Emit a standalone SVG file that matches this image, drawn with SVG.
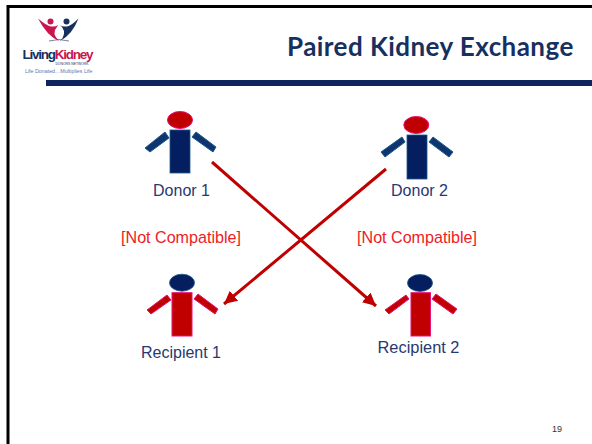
<svg xmlns="http://www.w3.org/2000/svg" width="592" height="444" viewBox="0 0 592 444">
<style>
.sans{font-family:"Liberation Sans",Arial,sans-serif}
.lbl{font-size:16px;fill:#27396f;text-anchor:middle}
.nc{font-size:16.100px;fill:#ee1c25;text-anchor:middle}
.navy{fill:#041e60;stroke:#1a5a8a;stroke-width:.8}
.arm{fill:#0f3570;stroke:#1a5a8a;stroke-width:1}
.red{fill:#c00000;stroke:#e8107a;stroke-width:1}
.conn{stroke:#c00000;stroke-width:3;fill:none}
</style>
<defs>
<marker id="ah" markerUnits="userSpaceOnUse" markerWidth="15" markerHeight="15" refX="13" refY="7" orient="auto"><path d="M0 0.500L13 7L0 13.500Z" fill="#c00000"/></marker>
</defs>
<rect width="592" height="444" fill="#fff"/>
<path d="M8 444V6.500H592" fill="none" stroke="#000" stroke-width="3"/>
<g id="logo">
<path d="M38 18.500Q47 26 51 26.500Q56 27 58 25L57 27Q51 33 59 41Q47 36 38 18.500Z" fill="#c8174f"/>
<path d="M78.500 18.500Q71 26 67 26.500Q62 27 60 25L62 27Q67 34 60 41Q72 35 78.500 18.500Z" fill="#16305f"/>
<circle cx="50.500" cy="21.500" r="3" fill="#c8174f"/><circle cx="66.500" cy="21.500" r="3" fill="#16305f"/>
<path d="M49 41Q59 38 69 41" fill="none" stroke="#16305f" stroke-width=".6"/>
<text class="sans" x="22.500" y="58.500" font-size="13.500" font-weight="700" letter-spacing="-1.250" fill="#16305f">Living<tspan fill="#c8174f">Kidney</tspan></text>
<text class="sans" x="72" y="65" font-size="3.400" fill="#16305f" text-anchor="middle">DONORS NETWORK</text>
<text class="sans" x="25" y="73" font-size="5.300" fill="#5a78a8">Life Donated…Multiplies Life</text>
</g>
<rect x="46" y="80" width="546" height="6" fill="#0f2560"/>
<text x="287" y="55.500" font-size="26" font-weight="700" letter-spacing=".45" fill="#16305f" style="font-family:Lato,'Liberation Sans',sans-serif">Paired Kidney Exchange</text>
<g id="connectors">
<path class="conn" d="M212 162L376 306" marker-end="url(#ah)"/>
<path class="conn" d="M386 169L224 304" marker-end="url(#ah)"/>
</g>
<g id="donor1">
<ellipse class="red" cx="180" cy="120" rx="12.500" ry="8.500"/>
<rect class="navy" x="170" y="130" width="20" height="43"/>
<path class="arm" d="M145 148L165 132L169 138L150 152Z"/>
<path class="arm" d="M192 137L196 132L216 147L213 152Z"/>
<text class="sans lbl" x="181.500" y="196">Donor 1</text>
</g>
<g id="donor2">
<ellipse class="red" cx="416.300" cy="125" rx="12.500" ry="8.500"/>
<rect class="navy" x="407" y="135" width="20" height="44"/>
<path class="arm" d="M381 152L402 137L405 142L385 157Z"/>
<path class="arm" d="M429 142L433 137L453 152L449 157Z"/>
<text class="sans lbl" x="419.500" y="196">Donor 2</text>
</g>
<g id="recipient1">
<ellipse class="navy" cx="182" cy="282.700" rx="12.500" ry="8.500"/>
<rect class="red" x="172" y="292.700" width="20" height="43.300"/>
<path class="red" d="M147 310L167 295L171 300L151 314Z"/>
<path class="red" d="M194 299L198 294L218 309L215 314Z"/>
<text class="sans lbl" x="181" y="357.500">Recipient 1</text>
</g>
<g id="recipient2">
<ellipse class="navy" cx="420" cy="283" rx="12.500" ry="8.500"/>
<rect class="red" x="411" y="292.700" width="19.500" height="43.300"/>
<path class="red" d="M385 310L406 295L409 299L389 314Z"/>
<path class="red" d="M432 299L436 294L457 309L453 314Z"/>
<text class="sans lbl" x="418.500" y="353" style="font-size:16.400px">Recipient 2</text>
</g>
<text class="sans nc" x="181" y="242.500">[Not Compatible]</text>
<text class="sans nc" x="417" y="242.500">[Not Compatible]</text>
<text class="sans" x="557" y="432" font-size="9" fill="#333" text-anchor="middle">19</text>
</svg>
